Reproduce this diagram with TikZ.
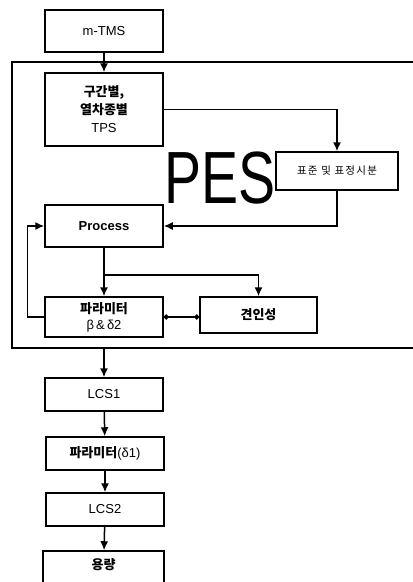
\documentclass[tikz,border=0pt]{standalone}
\usepackage{fontspec}
\usepackage{graphicx}
\setmainfont{Liberation Sans}
\newfontfamily\kr{Noto Sans CJK KR}
\newfontfamily\krwide[LetterSpace=12]{Noto Sans CJK KR}
\usetikzlibrary{arrows.meta}

\begin{document}
\begin{tikzpicture}[x=1pt,y=-1pt,
    box/.style={draw, line width=1.5pt, minimum width=118pt, inner sep=1pt, align=center, font=\fontsize{13}{18}\selectfont},
    arr/.style={line width=1.5pt, -{Latex[length=9pt,width=8pt]}},
    link/.style={line width=1.5pt}]
        % Page size of the reference
        \useasboundingbox (0,0) rectangle (413,582);

        % PES frame, open on the right
        \draw[link] (420,62) -- (12,62) -- (12,348) -- (420,348);
        \node at (220,178) {\fontsize{74}{74}\selectfont\scalebox{0.75}[1]{PES}};

        % Boxes of the main chain
        \node[box, minimum height=42pt] (mtms) at (104,31) {m-TMS};
        \node[box, minimum height=73pt] (tps) at (104,109.5) {{\kr\bfseries 구간별,}\\{\kr\bfseries 열차종별}\\TPS};
        \node[box, minimum width=122pt, minimum height=38pt, font=\fontsize{10.5}{12}\selectfont] (std) at (337,171) {\krwide 표준 및 표정시분};
        \node[box, minimum height=42pt, font=\bfseries\fontsize{13}{16}\selectfont] (proc) at (104,226) {Process};
        \node[box, minimum height=40pt, font=\fontsize{13}{16}\selectfont] (param) at (104,317) {{\kr\bfseries 파라미터}\\β\,\&\,δ2};
        \node[box, minimum width=117pt, minimum height=36pt] (trac) at (258.5,315) {\kr\bfseries 견인성};
        \node[box, minimum height=33pt] (lcs1) at (104,394.5) {LCS1};
        \node[box, minimum height=33pt] (param1) at (105,453.5) {{\kr\bfseries 파라미터}(δ1)};
        \node[box, minimum height=33pt] (lcs2) at (105,509.5) {LCS2};
        \node[box, minimum width=121pt, minimum height=50pt, text depth=24pt] (cap) at (103.5,576) {\kr\bfseries 용량};

        \coordinate (br) at (104,275);
        \coordinate (pesbot) at (104,348);

        % Connectors
        \draw[arr] (mtms) -- (tps);
        \draw[arr] (tps.east) -| (std.north);
        \draw[arr] (std.south) |- (proc.east);
        \draw[arr] (proc) -- (param);
        \draw[arr] (br) -| (trac.north);
        \draw[link, {Circle[length=5pt]}-{Circle[length=5pt]}] (param.east) -- (param.east -| trac.west);
        \draw[arr] (param.west) -- ++(-17,0) |- (proc.west);
        \draw[arr] (pesbot) -- (lcs1);
        \draw[arr] (lcs1) -- (param1);
        \draw[arr] (param1) -- (lcs2);
        \draw[arr] (lcs2) -- (cap);
    \end{tikzpicture}
\end{document}
